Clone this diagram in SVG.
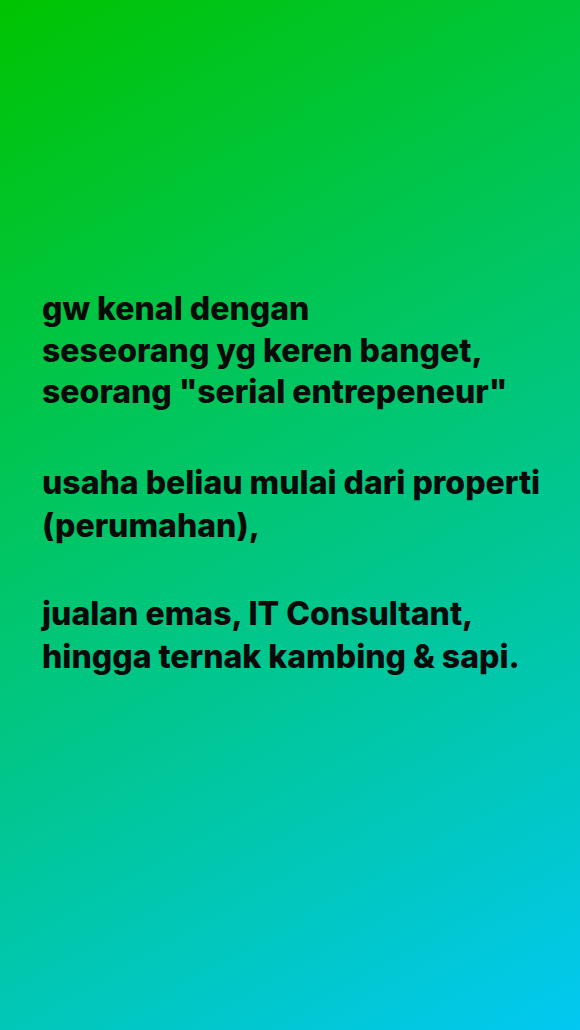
<svg xmlns="http://www.w3.org/2000/svg" width="580" height="1030" viewBox="0 0 580 1030">
<defs>
<linearGradient id="bg" gradientUnits="userSpaceOnUse" x1="0" y1="0" x2="580" y2="1030">
<stop offset="0" stop-color="#00C400"/>
<stop offset="1" stop-color="#02C8F2"/>
</linearGradient>
</defs>
<style>
.t{font-family:Inter,"Liberation Sans",sans-serif;font-weight:800;font-size:32px;fill:#0a0a0a}
</style>
<rect width="580" height="1030" fill="url(#bg)"/>
<g id="text">
<text class="t" x="42" y="320">gw kenal dengan</text>
<text class="t" x="42" y="362">seseorang yg keren banget,</text>
<text class="t" x="42" y="403">seorang "serial entrepeneur"</text>
<text class="t" x="42" y="494">usaha beliau mulai dari properti</text>
<text class="t" x="42" y="537">(perumahan),</text>
<text class="t" x="42" y="625">jualan emas, IT Consultant,</text>
<text class="t" x="42" y="668">hingga ternak kambing &amp; sapi.</text>
</g>
</svg>
